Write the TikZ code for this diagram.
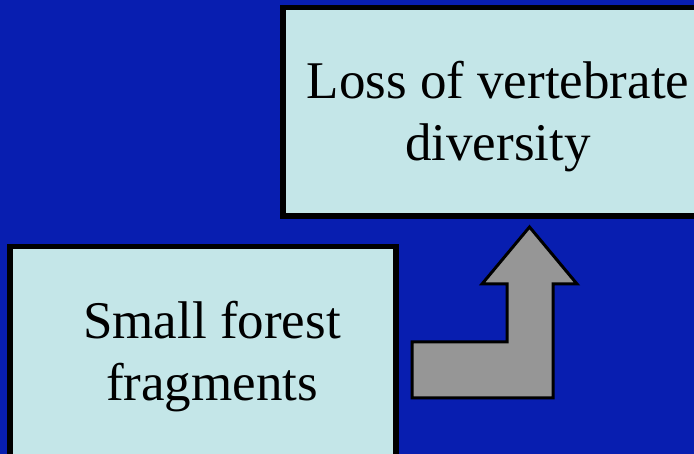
\documentclass[tikz,border=0pt]{standalone}
\usepackage{fontspec}
\setmainfont{Liberation Serif}
\definecolor{bgblue}{RGB}{8,30,176}
\definecolor{boxfill}{RGB}{196,230,232}
\definecolor{arrowgray}{RGB}{150,150,150}
\tikzset{
  panel/.style={draw=black, line width=5.5pt, fill=boxfill},
  label/.style={inner sep=0pt, align=center, font=\fontsize{53}{62}\selectfont},
  blockarrow/.style={draw=black, line width=3pt, fill=arrowgray, line join=miter}
}
\begin{document}
\begin{tikzpicture}[x=1pt,y=-1pt]
  \fill[bgblue] (0,0) rectangle (694,454);
  \useasboundingbox (0,0) rectangle (694,454);
  \draw[panel] (283,7.5) rectangle (730,216);
  \draw[panel] (10,246.5) rectangle (396,480);
  \node[label] (loss) at (498,116.8) {Loss of vertebrate\\diversity};
  \node[label] (small) at (212,356.8) {Small forest\\fragments};
  \draw[blockarrow] (412,342) -- (507,342) -- (507,284) -- (482,284) -- (529.5,227)
     -- (577,284) -- (553,284) -- (553,398) -- (412,398) -- cycle;
\end{tikzpicture}
\end{document}
